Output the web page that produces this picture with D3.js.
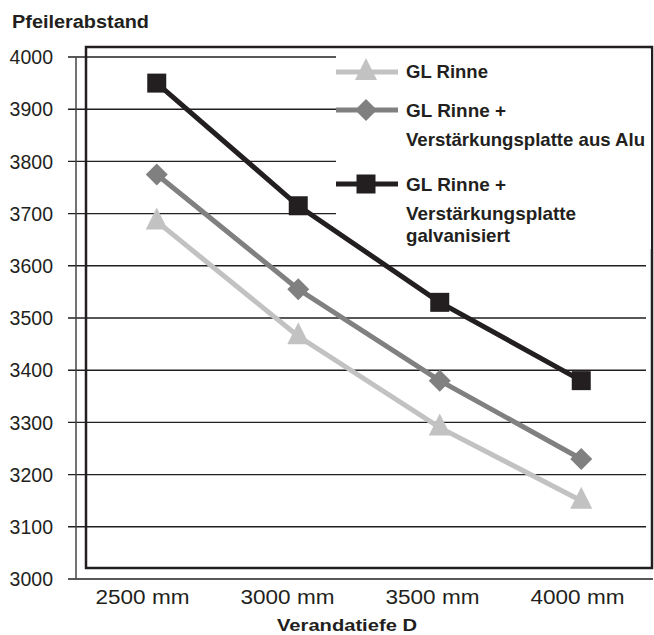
<!DOCTYPE html>
<html>
<head>
<meta charset="utf-8">
<script src="https://cdnjs.cloudflare.com/ajax/libs/d3/7.8.5/d3.min.js"></script>
<style>
body { margin: 0; background: #fff; }
svg { display: block; }
</style>
</head>
<body>
<svg id="chart" width="654" height="635"></svg>
<script>
// Verandatiefe D
var categories = ["2500 mm", "3000 mm", "3500 mm", "4000 mm"];
var yTicks = [3000, 3100, 3200, 3300, 3400, 3500, 3600, 3700, 3800, 3900, 4000];

// Pfeilerabstand je Variante
var rinne = [3685, 3465, 3290, 3150];
var alu = [3775, 3555, 3380, 3230];
var galv = [3950, 3715, 3530, 3380];

var seriesNames = [["GL Rinne"],
                   ["GL Rinne +", "Verstärkungsplatte aus Alu"],
                   ["GL Rinne +", "Verstärkungsplatte", "galvanisiert"]];

var col1 = "#c2c2c2";
var col2 = "#808080";
var col3 = "#231f20";

var svg = d3.select("#chart");
var font = "'Liberation Sans', Arial, Helvetica, sans-serif";

var frame = {left: 86, top: 47, right: 652, bottom: 568};

// marks sit on the frame, the tick labels are spaced a bit wider
var xScale = d3.scalePoint().domain(categories).range([frame.left, frame.right]).padding(0.5);
var xLabel = d3.scalePoint().domain(categories).range([70, 650]).padding(0.5);
var yScale = d3.scaleLinear().domain([3000, 4000]).range([579, 57]);

// title
svg.append("text")
   .attr("x", 12)
   .attr("y", 28)
   .attr("font-family", font)
   .attr("font-weight", "bold")
   .attr("font-size", "18px")
   .attr("textLength", 137)
   .attr("lengthAdjust", "spacingAndGlyphs")
   .attr("fill", "#231f20")
   .text("Pfeilerabstand");

// grid lines
svg.append("g")
   .selectAll("line")
   .data(yTicks)
   .enter().append("line")
   .attr("x1", 68)
   .attr("x2", function(d) { return d == 3000 ? 653 : 646; })
   .attr("y1", function(d) { return yScale(d); })
   .attr("y2", function(d) { return yScale(d); })
   .attr("stroke", "#231f20")
   .attr("stroke-width", 1.4);

// y axis line
svg.append("line")
   .attr("x1", 76).attr("x2", 76)
   .attr("y1", yScale(4000)).attr("y2", yScale(3000))
   .attr("stroke", "#444")
   .attr("stroke-width", 1.5);

// frame
svg.append("rect")
   .attr("x", frame.left)
   .attr("y", frame.top)
   .attr("width", frame.right - frame.left)
   .attr("height", frame.bottom - frame.top)
   .attr("fill", "none")
   .attr("stroke", "#231f20")
   .attr("stroke-width", 2.5);

// y labels
svg.append("g")
   .selectAll("text")
   .data(yTicks)
   .enter().append("text")
   .attr("x", 53)
   .attr("y", function(d) { return yScale(d); })
   .attr("dy", "0.37em")
   .attr("text-anchor", "end")
   .attr("font-family", font)
   .attr("font-size", "19.5px")
   .attr("fill", "#231f20")
   .text(function(d) { return d; });

// x labels
svg.append("g")
   .selectAll("text")
   .data(categories)
   .enter().append("text")
   .attr("x", function(d) { return xLabel(d) - 47; })
   .attr("y", 604)
   .attr("font-family", font)
   .attr("font-size", "20.5px")
   .attr("textLength", 94)
   .attr("lengthAdjust", "spacingAndGlyphs")
   .attr("fill", "#231f20")
   .text(function(d) { return d; });

svg.append("text")
   .attr("x", 277)
   .attr("y", 631)
   .attr("font-family", font)
   .attr("font-weight", "bold")
   .attr("font-size", "17px")
   .attr("textLength", 140)
   .attr("lengthAdjust", "spacingAndGlyphs")
   .attr("fill", "#231f20")
   .text("Verandatiefe D");

// legend background
svg.append("rect")
   .attr("x", 336)
   .attr("y", frame.top + 2)
   .attr("width", frame.right - 337)
   .attr("height", 200)
   .attr("fill", "#fff");

function triangle(g, cx, cy, color) {
  g.append("path")
   .attr("d", "M" + cx + "," + (cy - 14) + "L" + (cx + 11) + "," + (cy + 8) + "L" + (cx - 11) + "," + (cy + 8) + "Z")
   .attr("fill", color);
}
function diamond(g, cx, cy, color) {
  g.append("path")
   .attr("d", "M" + cx + "," + (cy - 11) + "L" + (cx + 11) + "," + cy + "L" + cx + "," + (cy + 11) + "L" + (cx - 11) + "," + cy + "Z")
   .attr("fill", color);
}
function square(g, cx, cy, color) {
  g.append("rect")
   .attr("x", cx - 9.5).attr("y", cy - 9.5)
   .attr("width", 19).attr("height", 19)
   .attr("fill", color);
}

var series = [
  {values: rinne, color: col1, marker: triangle},
  {values: alu, color: col2, marker: diamond},
  {values: galv, color: col3, marker: square}
];

var line = d3.line()
   .x(function(d, i) { return xScale(categories[i]); })
   .y(function(d) { return yScale(d); });

series.forEach(function(s) {
  var g = svg.append("g");
  g.append("path")
   .datum(s.values)
   .attr("d", line)
   .attr("fill", "none")
   .attr("stroke", s.color)
   .attr("stroke-width", 5);
  s.values.forEach(function(v, i) {
    s.marker(g, xScale(categories[i]), yScale(v), s.color);
  });
});

// legend (the original uses a condensed bold face, so the text is squeezed)
var legendY = [72, 110, 184];
var legendLines = [[5.5], [7, 36], [7, 35.5, 58]];
var legendWidth = [[82], [100, 239], [100, 170, 104]];
series.forEach(function(s, k) {
  var g = svg.append("g");
  g.append("line")
   .attr("x1", 336).attr("x2", 398)
   .attr("y1", legendY[k]).attr("y2", legendY[k])
   .attr("stroke", s.color)
   .attr("stroke-width", 5);
  s.marker(g, 366, legendY[k], s.color);
  seriesNames[k].forEach(function(t, j) {
    g.append("text")
     .attr("x", 406)
     .attr("y", legendY[k] + legendLines[k][j])
     .attr("font-family", font)
     .attr("font-weight", "bold")
     .attr("font-size", "19px")
     .attr("textLength", legendWidth[k][j])
     .attr("lengthAdjust", "spacingAndGlyphs")
     .attr("fill", "#231f20")
     .text(t);
  });
});
</script>
</body>
</html>
